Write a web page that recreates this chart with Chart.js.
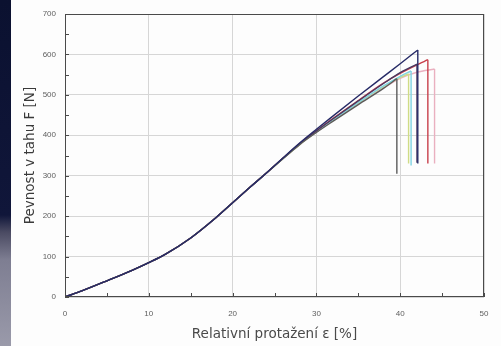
<!DOCTYPE html>
<html>
<head>
<meta charset="utf-8">
<script src="https://cdn.jsdelivr.net/npm/chart.js@4.4.1/dist/chart.umd.min.js"></script>
<style>
  html, body { margin: 0; padding: 0; background: #fdfdfd; }
  #wrap { position: relative; width: 501px; height: 346px; }
  #strip {
    position: absolute; left: 0; top: 0; width: 11px; height: 346px;
    background: linear-gradient(to bottom, #0b1130 0px, #10163a 215px, #4a4a62 232px, #7e7e92 260px, #9a9aaa 346px);
  }
  canvas { position: absolute; left: 0; top: 0; }
</style>
</head>
<body>
<div id="wrap">
  <div id="strip"></div>
  <canvas id="tahChart" width="501" height="346"></canvas>
</div>
<script>
// shared lower part of all curves (elongation %, force N)
const baseX = [0, 2, 5, 8, 10, 12, 15, 18, 20, 22, 24];
const baseY = [0, 15, 40, 66, 85, 106, 146, 196, 233, 270, 306];

// individual upper parts of the specimens
const navyX = [26, 28, 30, 32, 35, 38, 40, 42.1];
const navyY = [344, 381, 415, 448, 497, 545, 577, 611];
const purpleX = [26, 28, 30, 32, 35, 38, 40, 42.0];
const purpleY = [343, 379, 411, 441, 485, 528, 555, 576];
const redX = [26, 28, 30, 32, 35, 38, 40, 43.3];
const redY = [343, 379, 411, 442, 486, 529, 553, 587];
const pinkX = [26, 28, 30, 32, 35, 38, 40, 42, 44.1];
const pinkY = [342, 377, 408, 437, 478, 517, 541, 556, 564];
const cyanX = [26, 28, 30, 32, 35, 38, 40, 41.3];
const cyanY = [342, 378, 409, 439, 481, 522, 546, 559];
const greenX = [26, 28, 30, 32, 35, 38, 40, 41.0];
const greenY = [342, 377, 408, 438, 480, 520, 543, 552];
const greyX = [26, 28, 30, 32, 35, 38, 39.6];
const greyY = [342, 377, 407, 435, 476, 516, 540];

// force after rupture (bottom of the vertical drop)
const dropY = { navy: 330, red: 330, purple: 332, pink: 330, cyan: 325, green: 330, grey: 305 };

const xTicks = [0, 10, 20, 30, 40, 50];
const yTicks = [0, 100, 200, 300, 400, 500, 600, 700];

// first in the list is drawn on top
const specimens = [
    { key: 'navy', xs: navyX, ys: navyY, color: '#262a66' },
    { key: 'grey', xs: greyX, ys: greyY, color: '#5c5c5c' },
    { key: 'purple', xs: purpleX, ys: purpleY, color: '#4a3a62' },
    { key: 'red', xs: redX, ys: redY, color: '#c8404c' },
    { key: 'cyan', xs: cyanX, ys: cyanY, color: '#80d4e4' },
    { key: 'green', xs: greenX, ys: greenY, color: '#cfdc86' },
    { key: 'pink', xs: pinkX, ys: pinkY, color: '#eab0c0' }
];

const datasets = [];
specimens.forEach(s => {
    const xs = baseX.concat(s.xs);
    const ys = baseY.concat(s.ys);
    datasets.push({
        data: xs.map((x, i) => ({ x: x, y: ys[i] })),
        borderColor: s.color,
        borderWidth: 1.4,
        pointRadius: 0,
        cubicInterpolationMode: 'monotone',
        fill: false
    });
    const lastX = s.xs[s.xs.length - 1];
    const lastY = s.ys[s.ys.length - 1];
    datasets.push({
        data: [{ x: lastX, y: lastY }, { x: lastX, y: dropY[s.key] }],
        borderColor: s.color,
        borderWidth: 1.4,
        pointRadius: 0,
        tension: 0,
        fill: false
    });
});

// frame around the plot + small inward tick marks
const framePlugin = {
    id: 'frame',
    afterDraw(chart) {
        const ctx = chart.ctx;
        const a = chart.chartArea;
        const xs = chart.scales.x;
        const ys = chart.scales.y;
        ctx.save();
        ctx.strokeStyle = '#4a4a4a';
        ctx.lineWidth = 1;
        ctx.strokeRect(a.left + 0.5, a.top + 0.5, a.right - a.left - 1, a.bottom - a.top - 1);
        ctx.beginPath();
        for (let v = 0; v <= 50; v += 5) {
            const px = Math.round(xs.getPixelForValue(v)) + 0.5;
            ctx.moveTo(px, a.bottom);
            ctx.lineTo(px, a.bottom - 4);
        }
        for (let v = 0; v <= 700; v += 50) {
            const py = Math.round(ys.getPixelForValue(v)) + 0.5;
            ctx.moveTo(a.left, py);
            ctx.lineTo(a.left + 4, py);
        }
        ctx.stroke();
        ctx.restore();
    }
};

const ctx = document.getElementById('tahChart').getContext('2d');
new Chart(ctx, {
    type: 'line',
    data: { datasets: datasets },
    options: {
        responsive: false,
        animation: false,
        layout: { padding: { left: 12, top: 14, right: 17, bottom: 0 } },
        plugins: { legend: { display: false }, tooltip: { enabled: false } },
        scales: {
            x: {
                type: 'linear',
                min: 0,
                max: 50,
                afterBuildTicks: scale => { scale.ticks = xTicks.map(v => ({ value: v })); },
                afterFit: scale => { scale.height = 49; },
                grid: { color: '#d6d6d6', drawTicks: false },
                border: { display: false },
                ticks: { padding: 12, color: '#606060', font: { family: 'Liberation Sans', size: 8 } },
                title: {
                    display: true,
                    text: 'Relativní protažení ε [%]',
                    color: '#4a4a4a',
                    font: { family: 'DejaVu Sans', size: 13.5 },
                    padding: { top: 0, bottom: 3 }
                }
            },
            y: {
                type: 'linear',
                min: 0,
                max: 700,
                afterBuildTicks: scale => { scale.ticks = yTicks.map(v => ({ value: v })); },
                afterFit: scale => { scale.width = 53; },
                grid: { color: '#d6d6d6', drawTicks: false },
                border: { display: false },
                ticks: { padding: 9, color: '#606060', font: { family: 'Liberation Sans', size: 8 } },
                title: {
                    display: true,
                    text: 'Pevnost v tahu F [N]',
                    color: '#3a3a3a',
                    font: { family: 'DejaVu Sans', size: 13.5 },
                    padding: { top: 10, bottom: 0 }
                }
            }
        }
    },
    plugins: [framePlugin]
});
</script>
</body>
</html>
